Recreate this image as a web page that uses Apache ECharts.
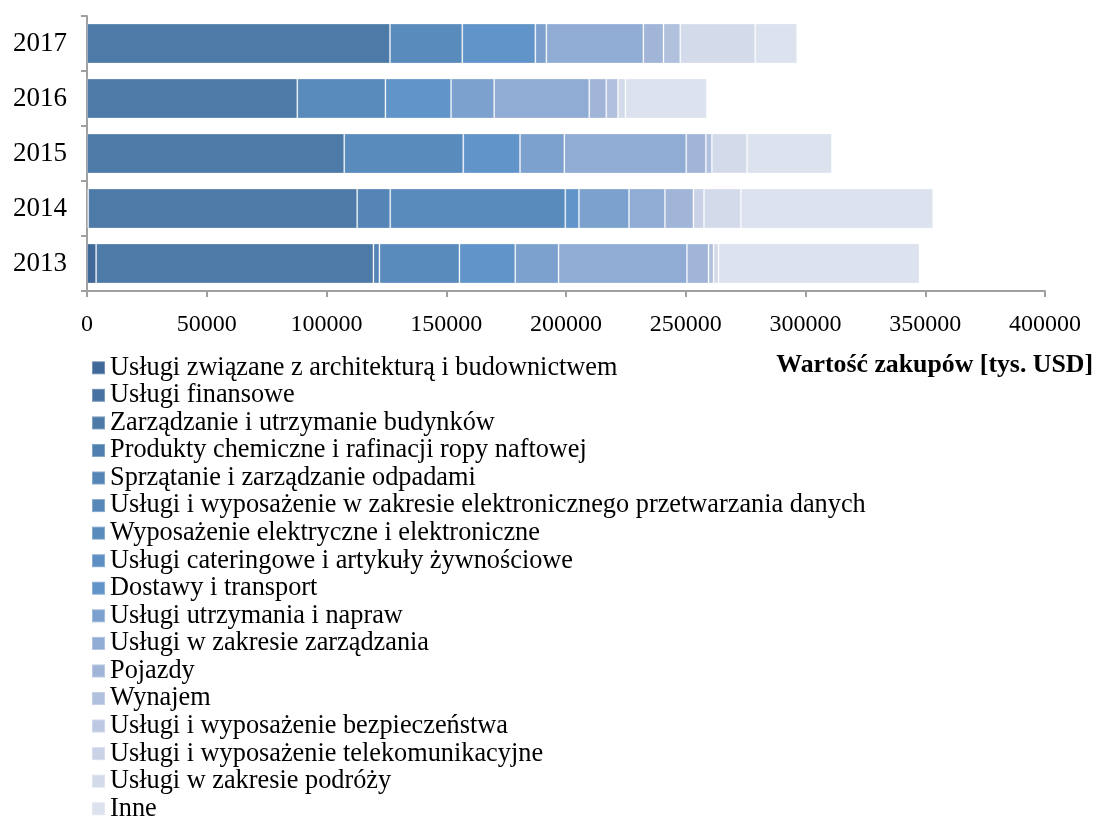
<!DOCTYPE html>
<html>
<head>
<meta charset="utf-8">
<script src="https://cdn.jsdelivr.net/npm/echarts@6/dist/echarts.min.js"></script>
<style>
  html, body { margin: 0; padding: 0; background: #ffffff; }
  #chart { width: 1098px; height: 817px; }
</style>
</head>
<body>
<div id="chart"></div>
<script>
// Years on the category axis (bottom to top)
const years = ['2013', '2014', '2015', '2016', '2017'];

// Purchase categories, in stacking order
const categories = [
  'Usługi związane z architekturą i budownictwem',
  'Usługi finansowe',
  'Zarządzanie i utrzymanie budynków',
  'Produkty chemiczne i rafinacji ropy naftowej',
  'Sprzątanie i zarządzanie odpadami',
  'Usługi i wyposażenie w zakresie elektronicznego przetwarzania danych',
  'Wyposażenie elektryczne i elektroniczne',
  'Usługi cateringowe i artykuły żywnościowe',
  'Dostawy i transport',
  'Usługi utrzymania i napraw',
  'Usługi w zakresie zarządzania',
  'Pojazdy',
  'Wynajem',
  'Usługi i wyposażenie bezpieczeństwa',
  'Usługi i wyposażenie telekomunikacyjne',
  'Usługi w zakresie podróży',
  'Inne'
];

// Values per category, thousand USD, for 2013..2017
const architektura   = [3800, 500, 0, 0, 0];
const finansowe      = [0, 0, 0, 0, 0];
const budynki        = [115800, 112300, 107400, 87800, 126500];
const chemiczne      = [0, 0, 0, 0, 0];
const sprzatanie     = [2500, 13800, 0, 0, 0];
const epd            = [0, 0, 0, 0, 0];
const elektryczne    = [33400, 73100, 49700, 36800, 30200];
const catering       = [0, 0, 0, 0, 0];
const dostawy        = [23300, 5700, 23700, 27400, 30500];
const naprawy        = [18100, 20900, 18500, 18000, 4600];
const zarzadzanie    = [53600, 15000, 50900, 39700, 40500];
const pojazdy        = [9000, 11900, 8200, 7100, 8400];
const wynajem        = [2100, 0, 2500, 4900, 7000];
const bezpieczenstwo = [0, 0, 0, 0, 0];
const telekom        = [0, 4400, 0, 0, 0];
const podroze        = [2100, 15400, 14700, 3100, 31300];
const inne           = [83900, 80300, 35400, 34000, 17500];

const seriesValues = [
  architektura, finansowe, budynki, chemiczne, sprzatanie, epd, elektryczne,
  catering, dostawy, naprawy, zarzadzanie, pojazdy, wynajem, bezpieczenstwo,
  telekom, podroze, inne
];

// Value axis ticks
const xMin = 0, xMax = 400000, xStep = 50000;

// Monochrome blue ramp, dark to light
const palette = [
  '#40699a', '#4872a1', '#4d7aa7', '#5080b0', '#5485b6', '#5788b9', '#598bbd',
  '#5d8fc2', '#6194c8', '#7da1ce', '#90acd4', '#a1b5d8', '#b0c0dd', '#bdc9e2',
  '#c9d2e7', '#d3daea', '#dce2ee'
];

const serif = '"Liberation Serif", "Times New Roman", serif';

const series = categories.map((name, i) => ({
  name: name,
  type: 'bar',
  stack: 'total',
  barWidth: 40,
  itemStyle: {
    color: palette[i],
    borderColor: 'rgba(255,255,255,0.28)',
    borderWidth: 1
  },
  emphasis: { disabled: true },
  data: seriesValues[i].map(v => (v === 0 ? '-' : v))
}));

const chart = echarts.init(document.getElementById('chart'), null, { renderer: 'canvas' });

chart.setOption({
  animation: false,
  backgroundColor: '#ffffff',
  color: palette,
  grid: { left: 87, right: 53, top: 16, bottom: 526, containLabel: false },
  xAxis: {
    type: 'value',
    min: xMin,
    max: xMax,
    interval: xStep,
    axisLine: { show: true, lineStyle: { color: '#a0a0a0', width: 2 } },
    axisTick: { show: true, length: 6, lineStyle: { color: '#a0a0a0', width: 2 } },
    splitLine: { show: false },
    axisLabel: {
      color: '#000', fontFamily: serif, fontSize: 24, margin: 22,
      formatter: v => String(v)
    }
  },
  yAxis: {
    type: 'category',
    data: years,
    axisLine: { show: true, lineStyle: { color: '#a0a0a0', width: 2 } },
    axisTick: { show: true, length: 6, lineStyle: { color: '#a0a0a0', width: 2 } },
    axisLabel: { color: '#000', fontFamily: serif, fontSize: 27, margin: 20 }
  },
  legend: {
    orient: 'vertical',
    left: 91,
    top: 354,
    height: 470,
    padding: 0,
    itemWidth: 13,
    itemHeight: 13,
    itemGap: 0,
    icon: 'rect',
    selectedMode: false,
    textStyle: { color: '#000', fontFamily: serif, fontSize: 26.3, lineHeight: 27.56 },
    data: categories
  },
  graphic: [{
    type: 'text',
    right: 5,
    top: 352,
    style: {
      text: 'Wartość zakupów [tys. USD]',
      fill: '#000',
      font: 'bold 25.8px ' + serif
    }
  }],
  series: series
});
</script>
</body>
</html>
